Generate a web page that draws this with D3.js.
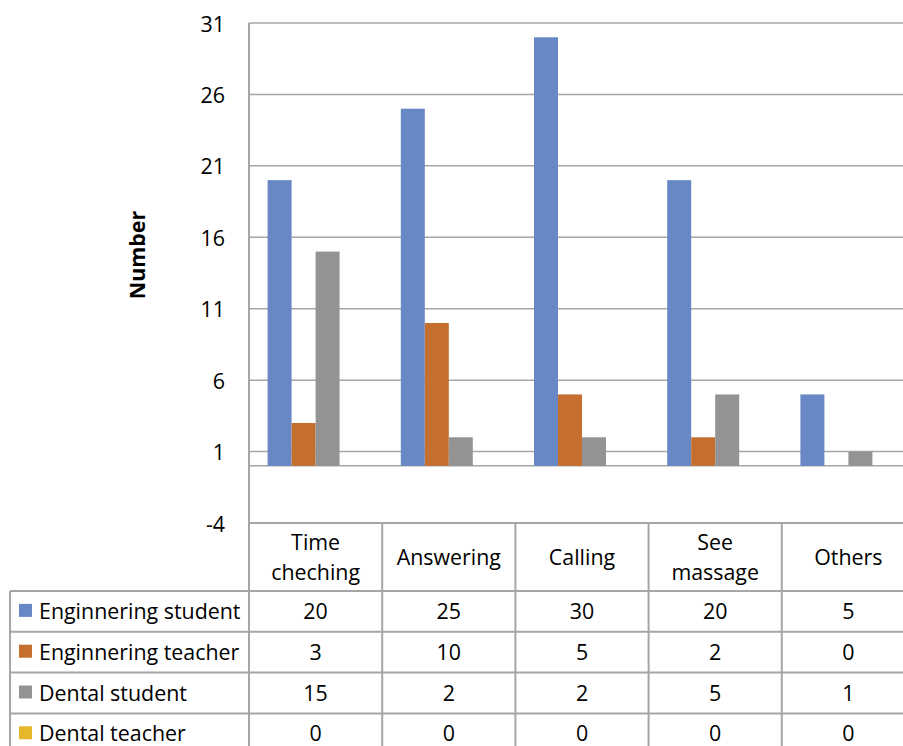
<!DOCTYPE html>
<html>
<head>
<meta charset="utf-8">
<script src="https://cdn.jsdelivr.net/npm/d3@7/dist/d3.min.js"></script>
<style>
  html, body { margin: 0; padding: 0; background: #fff; }
  svg { display: block; font-family: "Open Sans", Lato, sans-serif; }
</style>
</head>
<body>
<svg id="chart" width="903" height="746"></svg>
<script>
// Categories (column headers of the data table)
const categories = [["Time", "cheching"], ["Answering"], ["Calling"], ["See", "massage"], ["Others"]];
const categoryKeys = ["Time cheching", "Answering", "Calling", "See massage", "Others"];

// Series
const seriesNames = ["Enginnering student", "Enginnering teacher", "Dental student", "Dental teacher"];
const engineeringStudent = [20, 25, 30, 20, 5];
const engineeringTeacher = [3, 10, 5, 2, 0];
const dentalStudent = [15, 2, 2, 5, 1];
const dentalTeacher = [0, 0, 0, 0, 0];
const seriesValues = [engineeringStudent, engineeringTeacher, dentalStudent, dentalTeacher];
const seriesColors = ["#6788C5", "#C46E2F", "#939393", "#E6B72A"];

// Value axis ticks
const yTicks = [-4, 1, 6, 11, 16, 21, 26, 31];

const svg = d3.select("#chart");
const plotLeft = 249, plotRight = 915, plotTop = 23, plotBottom = 523;
const rowH = 40.8, headerBottom = 591;
const lineColor = "#A6A6A6";
const fs = 21.4;

const x = d3.scaleBand().domain(categoryKeys).range([plotLeft, plotRight]).paddingInner(0).paddingOuter(0);
const xs = d3.scaleBand().domain(seriesNames).range([0, x.bandwidth()]).paddingInner(0).paddingOuter(0.775);
const y = d3.scaleLinear().domain([-4, 31]).range([plotBottom, plotTop]);

// Horizontal gridlines
svg.append("g").selectAll("line").data(yTicks.filter(t => t !== -4)).join("line")
  .attr("x1", plotLeft).attr("x2", plotRight)
  .attr("y1", d => y(d)).attr("y2", d => y(d))
  .attr("stroke", lineColor).attr("stroke-width", 1.5);

// Zero baseline
svg.append("line").attr("x1", plotLeft).attr("x2", plotRight)
  .attr("y1", y(0)).attr("y2", y(0))
  .attr("stroke", lineColor).attr("stroke-width", 1.5);

// Y axis tick labels
svg.append("g").selectAll("text").data(yTicks).join("text")
  .attr("x", 225).attr("y", d => y(d))
  .attr("text-anchor", "end").attr("dominant-baseline", "central")
  .attr("font-size", fs).attr("fill", "#000")
  .text(d => d);

// Axis title
svg.append("text")
  .attr("transform", "translate(136,255) rotate(-90)")
  .attr("text-anchor", "middle").attr("dominant-baseline", "central")
  .attr("font-size", fs).attr("font-weight", "bold")
  .text("Number");

// Bars
seriesNames.forEach((name, si) => {
  svg.append("g").selectAll("rect").data(seriesValues[si]).join("rect")
    .attr("x", (d, i) => x(categoryKeys[i]) + xs(name))
    .attr("width", xs.bandwidth())
    .attr("y", d => Math.min(y(d), y(0)))
    .attr("height", d => Math.abs(y(0) - y(d)))
    .attr("fill", seriesColors[si]);
});

// Data table borders
const tableBottom = headerBottom + rowH * seriesNames.length;
const g = svg.append("g").attr("stroke", lineColor).attr("stroke-width", 2);
// vertical axis line / category separators
g.append("line").attr("x1", plotLeft).attr("x2", plotLeft).attr("y1", plotTop).attr("y2", tableBottom);
categoryKeys.forEach(k => {
  g.append("line").attr("x1", x(k) + x.bandwidth()).attr("x2", x(k) + x.bandwidth())
    .attr("y1", k === "Others" ? plotTop : plotBottom).attr("y2", tableBottom);
});
// top of table
g.append("line").attr("x1", plotLeft).attr("x2", plotRight).attr("y1", plotBottom).attr("y2", plotBottom);
// row lines
for (let r = 0; r <= seriesNames.length; r++) {
  const yy = headerBottom + r * rowH;
  g.append("line").attr("x1", 10).attr("x2", plotRight).attr("y1", yy).attr("y2", yy);
}
g.append("line").attr("x1", 10).attr("x2", 10).attr("y1", headerBottom).attr("y2", tableBottom);

// Category headers
categories.forEach((lines, i) => {
  const cx = x(categoryKeys[i]) + x.bandwidth() / 2;
  const cy = (plotBottom + headerBottom) / 2 - 1;
  const lh = 30;
  lines.forEach((ln, j) => {
    svg.append("text")
      .attr("x", cx).attr("y", cy + (j - (lines.length - 1) / 2) * lh)
      .attr("text-anchor", "middle").attr("dominant-baseline", "central")
      .attr("font-size", fs).text(ln);
  });
});

// Legend keys and values in the table rows
seriesNames.forEach((name, si) => {
  const cy = headerBottom + rowH * si + rowH / 2 - 1;
  svg.append("rect").attr("x", 19).attr("y", cy - 6.5).attr("width", 13).attr("height", 13)
    .attr("fill", seriesColors[si]);
  svg.append("text").attr("x", 39).attr("y", cy)
    .attr("dominant-baseline", "central").attr("font-size", fs).text(name);
  seriesValues[si].forEach((v, i) => {
    svg.append("text")
      .attr("x", x(categoryKeys[i]) + x.bandwidth() / 2).attr("y", cy)
      .attr("text-anchor", "middle").attr("dominant-baseline", "central")
      .attr("font-size", fs).text(v);
  });
});
</script>
</body>
</html>
